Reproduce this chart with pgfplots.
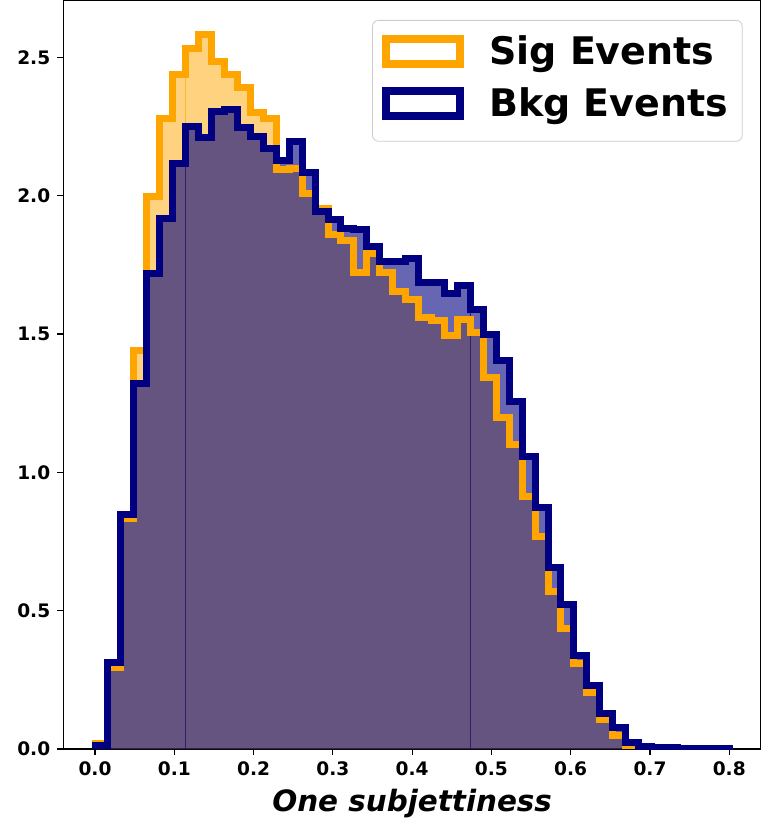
\documentclass[border=0pt]{standalone}
\usepackage{fontspec}
\setmainfont{DejaVu Sans}[BoldFont={DejaVu Sans Bold},ItalicFont={DejaVu Sans Oblique},BoldItalicFont={DejaVu Sans Bold Oblique}]
\usepackage{pgfplots}
\usepackage{pgfplotstable}
\pgfplotsset{compat=1.18}
\definecolor{sigorange}{HTML}{FFA500}
\definecolor{bkgnavy}{HTML}{000080}
\pgfplotstableread{
x sig bkg
0 0 0
0 0.021 0.012
0.016327 0.295 0.312
0.032653 0.832 0.848
0.048980 1.442 1.321
0.065306 1.998 1.717
0.081633 2.279 1.917
0.097959 2.438 2.116
0.114286 2.533 2.249
0.130612 2.581 2.209
0.146939 2.484 2.303
0.163265 2.436 2.312
0.179592 2.390 2.246
0.195918 2.299 2.213
0.212245 2.279 2.170
0.228571 2.095 2.128
0.244898 2.098 2.197
0.261224 2.007 2.083
0.277551 1.955 1.942
0.293878 1.859 1.913
0.310204 1.838 1.882
0.326531 1.722 1.877
0.342857 1.789 1.816
0.359184 1.722 1.761
0.375510 1.655 1.761
0.391837 1.626 1.771
0.408163 1.559 1.687
0.424490 1.547 1.687
0.440816 1.493 1.646
0.457143 1.553 1.675
0.473469 1.505 1.587
0.489796 1.344 1.499
0.506122 1.199 1.405
0.522449 1.100 1.257
0.538776 0.911 1.058
0.555102 0.768 0.871
0.571429 0.570 0.656
0.587755 0.434 0.521
0.604082 0.310 0.338
0.620408 0.204 0.229
0.636735 0.105 0.130
0.653061 0.048 0.076
0.669388 0.012 0.025
0.685714 0.005 0.010
0.702041 0.002 0.005
0.718367 0.001 0.004
0.734694 0.001 0.003
0.751020 0.000 0.002
0.767347 0.000 0.001
0.783673 0.000 0.001
0.8 0.000 0.001
0.8 0 0
}\hist
\begin{document}
\begin{tikzpicture}
\begin{axis}[
  scale only axis, width=348.85pt, height=374.5pt,
  xmin=-0.04, xmax=0.84, ymin=0, ymax=2.707,
  axis line style={line width=0.6pt, black},
  tick align=outside, major tick length=3pt,
  tick style={line width=0.6pt, black},
  xtick={0,0.1,0.2,0.3,0.4,0.5,0.6,0.7,0.8},
  ytick={0,0.5,1,1.5,2,2.5},
  /pgf/number format/assume math mode=true,
  xticklabel style={/pgf/number format/fixed, /pgf/number format/fixed zerofill, /pgf/number format/precision=1},
  yticklabel style={/pgf/number format/fixed, /pgf/number format/fixed zerofill, /pgf/number format/precision=1},
  tick label style={font=\bfseries\fontsize{9.3}{11}\selectfont},
  xlabel={One subjettiness},
  xlabel style={font=\bfseries\itshape\fontsize{14.7}{17}\selectfont, at={(axis description cs:0.5,0)}, anchor=base, yshift=-31pt},
  legend style={at={(1,1)}, anchor=north east, xshift=-9.2pt, yshift=-10pt,
    draw=black!20, rounded corners=3pt, fill=white,
    font=\bfseries\fontsize{19}{22}\selectfont,
    inner xsep=5pt, inner ysep=5.5pt, row sep=3pt,
    /tikz/every odd column/.append style={column sep=10.5pt}},
  legend cell align=left,
  legend image code/.code={\draw[sharp corners, line width=4pt, line join=miter, fill=none] (0pt,-6.35pt) rectangle (36.85pt,6.35pt);
    \path (0pt,-11.5pt);},
]
\addplot[draw=none, fill=sigorange, fill opacity=0.5, const plot mark left, forget plot] table[x=x,y=sig]{\hist} \closedcycle;
\addplot[draw=none, fill=bkgnavy, fill opacity=0.6, const plot mark left, forget plot] table[x=x,y=bkg]{\hist} \closedcycle;
\addplot[sigorange, opacity=0.6, line width=0.6pt, forget plot] coordinates {(0.114286,0) (0.114286,2.43)};
\addplot[bkgnavy, opacity=0.75, line width=0.6pt, forget plot] coordinates {(0.114286,0) (0.114286,2.11)};
\addplot[sigorange, opacity=0.6, line width=0.6pt, forget plot] coordinates {(0.473469,0) (0.473469,1.50)};
\addplot[bkgnavy, opacity=0.75, line width=0.6pt, forget plot] coordinates {(0.473469,0) (0.473469,1.58)};
\addplot[sigorange, line width=3.5pt, line join=miter, const plot mark left] table[x=x,y=sig]{\hist};
\addlegendentry{Sig Events}
\addplot[bkgnavy, line width=3.5pt, line join=miter, const plot mark left] table[x=x,y=bkg]{\hist};
\addlegendentry{Bkg Events}
\end{axis}
\pgfresetboundingbox
\path (current axis.south west) ++(-31.65pt,-35pt) rectangle (current axis.north east);
\end{tikzpicture}
\end{document}
